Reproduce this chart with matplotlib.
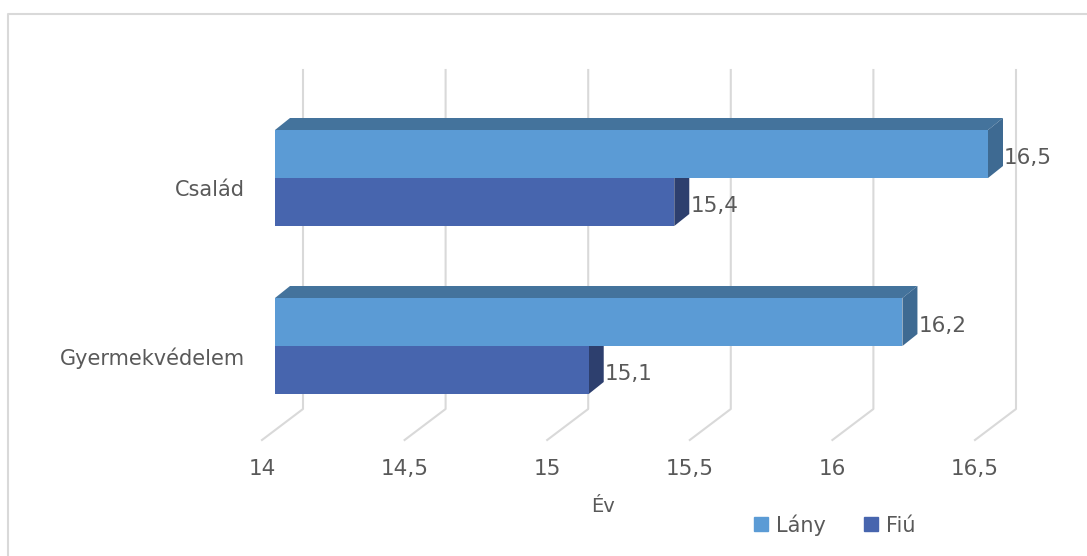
import matplotlib.pyplot as plt
from matplotlib.patches import Polygon, Rectangle
from matplotlib.lines import Line2D

categories = ["Család", "Gyermekvédelem"]
lany = [16.5, 16.2]
fiu = [15.4, 15.1]
ticks = [14, 14.5, 15, 15.5, 16, 16.5]
tick_labels = ["14", "14,5", "15", "15,5", "16", "16,5"]

LANY_FRONT, LANY_TOP, LANY_SIDE = "#5B9BD5", "#44739C", "#3E6A92"
FIU_FRONT, FIU_SIDE = "#4765AE", "#2D3F6E"
TEXT = "#595959"
GRID = "#D9D9D9"

plt.rcParams["font.family"] = ["DejaVu Sans"]

W, H = 1087, 556
fig = plt.figure(figsize=(W / 100, H / 100), dpi=100)
ax = fig.add_axes([0, 0, 1, 1])
# x in chart units (285.2 px per unit, 14 at px 275), y in pixel rows
ppu = 285.2
x0 = 14 - 275 / ppu
ax.set_xlim(x0, x0 + W / ppu)
ax.set_ylim(H, 0)
ax.axis("off")

px = 1 / ppu
bar_dx, bar_dy = 15 * px, -12        # bar depth
wall_dx = 28 * px                    # back wall offset
floor_dx, floor_dy = -13 * px, 31    # floor diagonal toward viewer

# outer frame
ax.plot([x0 + 8 * px, x0 + 8 * px, x0 + W / ppu], [H, 14, 14], color=GRID, lw=1.5, zorder=0)

# gridlines on back wall + floor
for t, lab in zip(ticks, tick_labels):
    xb = t + wall_dx
    ax.plot([xb, xb, t + floor_dx], [70, 409, 409 + floor_dy],
            color=GRID, lw=1.5, zorder=0)
    ax.text(t + floor_dx, 469, lab, ha="center", va="center", fontsize=15.5, color=TEXT)

ax.text(x0 + 603 * px, 507, "Év", ha="center", va="center", fontsize=14, color=TEXT)

centers = [178, 346]
h = 48
for cat, yc, vl, vf in zip(categories, centers, lany, fiu):
    # Fiú bar (lower)
    yt, yb = yc, yc + h
    ax.add_patch(Polygon([(vf, yt), (vf + bar_dx, yt + bar_dy), (vf + bar_dx, yb + bar_dy), (vf, yb)],
                         closed=True, fc=FIU_SIDE, ec="none", zorder=2))
    ax.add_patch(Rectangle((14, yt), vf - 14, h, fc=FIU_FRONT, ec="none", zorder=2))
    ax.text(vf + bar_dx + 1 * px, yc + h / 2 + 4, f"{vf:.1f}".replace(".", ","),
            ha="left", va="center", fontsize=15.5, color=TEXT, zorder=3)
    # Lány bar (upper)
    yt, yb = yc - h, yc
    ax.add_patch(Polygon([(14, yt), (14 + bar_dx, yt + bar_dy), (vl + bar_dx, yt + bar_dy), (vl, yt)],
                         closed=True, fc=LANY_TOP, ec="none", zorder=2))
    ax.add_patch(Polygon([(vl, yt), (vl + bar_dx, yt + bar_dy), (vl + bar_dx, yb + bar_dy), (vl, yb)],
                         closed=True, fc=LANY_SIDE, ec="none", zorder=2))
    ax.add_patch(Rectangle((14, yt), vl - 14, h, fc=LANY_FRONT, ec="none", zorder=2.5))
    ax.text(vl + bar_dx + 1 * px, yc - 20, f"{vl:.1f}".replace(".", ","),
            ha="left", va="center", fontsize=15.5, color=TEXT, zorder=3)
    ax.text(x0 + 245 * px, yc + 12, cat, ha="right", va="center", fontsize=15, color=TEXT)

handles = [Line2D([], [], marker="s", ls="none", color=LANY_FRONT, markersize=10, label="Lány"),
           Line2D([], [], marker="s", ls="none", color=FIU_FRONT, markersize=10, label="Fiú")]
fig.legend(handles=handles, loc="center", bbox_to_anchor=(834 / W, 1 - 525 / H), ncol=2,
           frameon=False, prop={"size": 15}, labelcolor=TEXT, handlelength=0.8,
           handletextpad=0.3, columnspacing=1.8)

fig.savefig("out.png", dpi=100)
